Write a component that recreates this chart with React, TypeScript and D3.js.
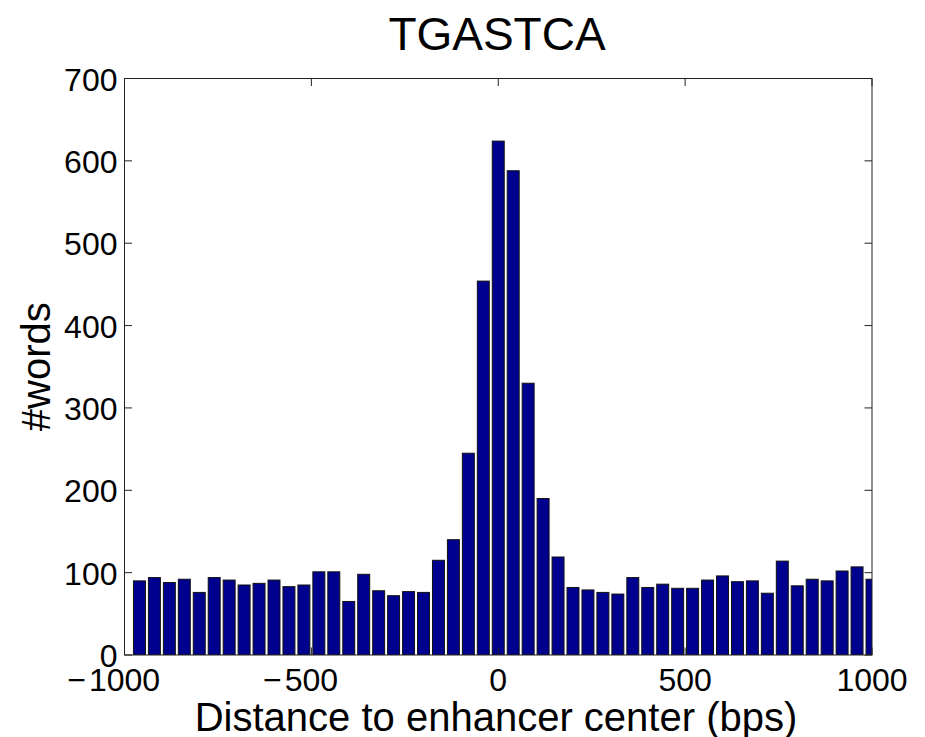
import React from "react";
import * as d3 from "d3";

const binCenters = [
  -960, -920, -880, -840, -800, -760, -720, -680, -640, -600,
  -560, -520, -480, -440, -400, -360, -320, -280, -240, -200,
  -160, -120, -80, -40, 0, 40, 80, 120, 160, 200,
  240, 280, 320, 360, 400, 440, 480, 520, 560, 600,
  640, 680, 720, 760, 800, 840, 880, 920, 960, 1000,
];
const counts = [
  90, 94, 88, 92, 76, 94, 91, 85, 87, 91,
  83, 85, 101, 101, 65, 98, 78, 72, 77, 76,
  115, 140, 245, 454, 624, 588, 330, 190, 119, 82,
  79, 76, 74, 94, 82, 86, 81, 81, 91, 96,
  89, 90, 75, 114, 84, 92, 90, 102, 107, 92,
];
const xTicks = [-1000, -500, 0, 500, 1000];
const yTicks = [0, 100, 200, 300, 400, 500, 600, 700];
const binWidth = 40;
const titleText = "TGASTCA";
const xLabelText = "Distance to enhancer center (bps)";
const yLabelText = "#words";

const W = 925;
const H = 737;
const left = 124.5;
const right = 872;
const top = 78.5;
const bottom = 655;
const FONT = "'Liberation Sans', Arial, Helvetica, sans-serif";
const TICK_FS = 32;
const TICK_LEN = 7.5;

export default function App() {
  const x = d3.scaleLinear().domain([-1000, 1000]).range([left, right]);
  const y = d3.scaleLinear().domain([0, 700]).range([bottom, top]);
  const bw = (x(binWidth) - x(0)) * 0.8;
  const digitW = 0.556 * TICK_FS;

  return (
    <svg
      width={W}
      height={H}
      style={{ position: "absolute", left: 0, top: 0, display: "block", background: "#fff" }}
      fontFamily={FONT}
    >
      <defs>
        <clipPath id="plotclip">
          <rect x={left} y={top} width={right - left} height={bottom - top} />
        </clipPath>
      </defs>
      <rect x={0} y={0} width={W} height={H} fill="#fff" />
      <rect x={left} y={top} width={right - left} height={bottom - top} fill="#fff" />
      <g clipPath="url(#plotclip)">
        {binCenters.map((c, i) => (
          <rect
            key={i}
            x={x(c) - bw / 2}
            y={y(counts[i])}
            width={bw}
            height={y(0) - y(counts[i])}
            fill="#00008F"
            stroke="#111"
            strokeWidth={1}
          />
        ))}
      </g>
      {/* axes box */}
      <rect
        x={left}
        y={top}
        width={right - left}
        height={bottom - top}
        fill="none"
        stroke="#222"
        strokeWidth={1}
      />
      {/* x ticks */}
      {xTicks.map((t) => (
        <g key={"xt" + t}>
          <line x1={x(t)} x2={x(t)} y1={bottom} y2={bottom - TICK_LEN} stroke="#222" strokeWidth={1} />
          <line x1={x(t)} x2={x(t)} y1={top} y2={top + TICK_LEN} stroke="#222" strokeWidth={1} />
          <text x={x(t)} y={bottom + 36} fontSize={TICK_FS} textAnchor="middle" fill="#000">
            {String(Math.abs(t))}
          </text>
          {t < 0 && (
            <text
              x={x(t) - (String(Math.abs(t)).length * digitW) / 2 - 3}
              y={bottom + 36}
              fontSize={TICK_FS}
              textAnchor="end"
              fill="#000"
            >
              {"\u2212"}
            </text>
          )}
        </g>
      ))}
      {/* y ticks */}
      {yTicks.map((t) => (
        <g key={"yt" + t}>
          <line x1={left} x2={left + TICK_LEN} y1={y(t)} y2={y(t)} stroke="#222" strokeWidth={1} />
          <line x1={right} x2={right - TICK_LEN} y1={y(t)} y2={y(t)} stroke="#222" strokeWidth={1} />
          <text x={left - 7} y={y(t) + 12} fontSize={TICK_FS} textAnchor="end" fill="#000">
            {String(t)}
          </text>
        </g>
      ))}
      <text x={497} y={50} fontSize={46} textAnchor="middle" fill="#000">
        {titleText}
      </text>
      <text x={496} y={731} fontSize={40} textAnchor="middle" fill="#000">
        {xLabelText}
      </text>
      <text
        transform={`translate(50, ${(top + bottom) / 2}) rotate(-90)`}
        fontSize={40}
        textAnchor="middle"
        fill="#000"
      >
        {yLabelText}
      </text>
    </svg>
  );
}
